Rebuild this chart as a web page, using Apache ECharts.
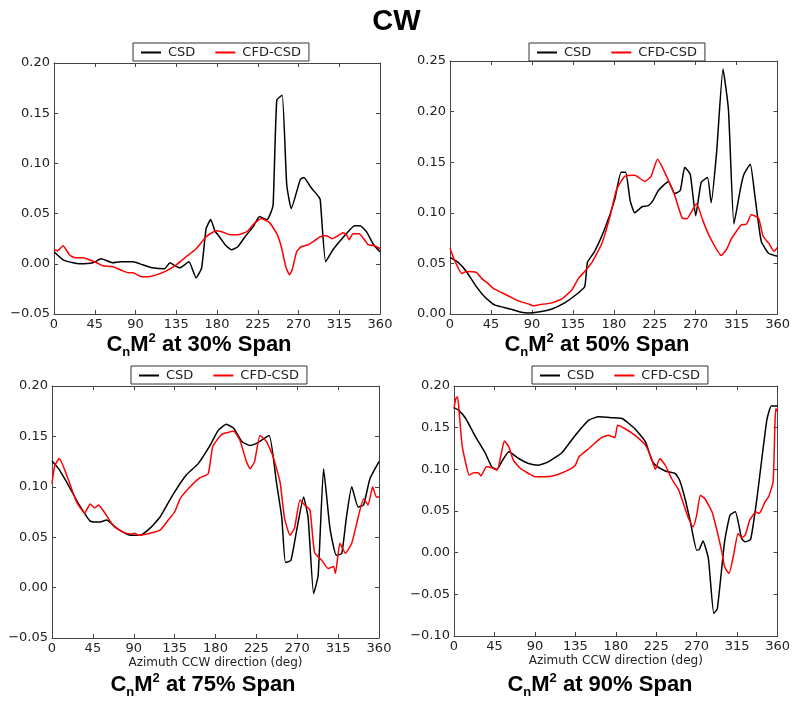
<!DOCTYPE html>
<html>
<head>
<meta charset="utf-8">
<script src="https://cdn.jsdelivr.net/npm/echarts@6/dist/echarts.min.js"></script>
<style>html,body{margin:0;padding:0;background:#fff}#c{width:793px;height:703px}</style>
</head>
<body>
<div id="c"></div>
<script>
// ---------------- data ----------------
const xTicks = [0, 45, 90, 135, 180, 225, 270, 315, 360];
const seriesNames = ['CSD', 'CFD-CSD'];
const panelTitles = ['30%', '50%', '75%', '90%'];
const xAxisName = 'Azimuth CCW direction (deg)';

// 30% span
const csd30Deg = [0,10,21,28,43,52,65,73,87,98,109,122,128,132,139,149,157,163,168,173,178,181,189,196,203,211,220,227,235,239,242,246,252,257,262,272,276,283,292,294,300,308,320,332,338,345,353,360];
const csd30Val = [0.012,0.004,0.001,0.000,0.001,0.005,0.001,0.002,0.002,-0.001,-0.004,-0.005,0.001,-0.001,-0.004,0.002,-0.014,-0.004,0.035,0.044,0.032,0.029,0.019,0.014,0.017,0.027,0.037,0.047,0.044,0.050,0.059,0.163,0.168,0.079,0.055,0.084,0.086,0.077,0.067,0.064,0.002,0.014,0.027,0.038,0.038,0.032,0.019,0.012];
const cfd30Deg = [0,4,10,17,23,32,39,47,54,65,76,82,87,97,102,113,124,135,146,157,168,179,185,194,203,213,220,229,238,246,251,256,260,263,268,273,281,286,294,301,307,312,319,323,326,330,337,342,347,354,360];
const cfd30Val = [0.014,0.013,0.018,0.009,0.006,0.006,0.004,0.001,-0.002,-0.003,-0.007,-0.009,-0.009,-0.013,-0.013,-0.011,-0.007,-0.001,0.007,0.015,0.027,0.033,0.032,0.029,0.029,0.032,0.039,0.045,0.041,0.030,0.017,-0.003,-0.011,-0.006,0.012,0.017,0.019,0.022,0.027,0.028,0.025,0.027,0.031,0.029,0.024,0.030,0.030,0.025,0.019,0.018,0.015];

// 50% span
const csd50Deg = [0,9,18,29,38,49,66,77,86,97,112,126,137,148,151,159,170,181,188,193,198,203,211,218,223,229,240,247,253,258,264,270,276,283,287,293,300,306,312,319,323,330,335,342,350,360];
const csd50Val = [0.056,0.051,0.042,0.027,0.017,0.009,0.005,0.002,0.001,0.002,0.005,0.011,0.018,0.027,0.051,0.062,0.084,0.113,0.140,0.140,0.112,0.100,0.106,0.107,0.112,0.122,0.131,0.119,0.122,0.145,0.138,0.097,0.130,0.135,0.110,0.160,0.242,0.202,0.089,0.123,0.138,0.148,0.117,0.072,0.060,0.057];
const cfd50Deg = [0,5,13,18,29,35,42,48,57,66,75,86,92,97,112,123,134,141,148,156,167,176,183,192,203,214,221,228,236,247,255,260,271,278,285,298,304,309,315,320,326,331,339,344,351,356,360];
const cfd50Val = [0.065,0.053,0.040,0.042,0.041,0.035,0.030,0.025,0.021,0.017,0.013,0.010,0.008,0.009,0.011,0.015,0.024,0.035,0.042,0.051,0.070,0.097,0.123,0.136,0.137,0.131,0.136,0.153,0.140,0.117,0.095,0.094,0.109,0.092,0.077,0.058,0.064,0.074,0.082,0.088,0.089,0.098,0.095,0.077,0.069,0.062,0.066];

// 75% span
const csd75Deg = [0,8,19,30,42,53,60,71,86,97,108,119,133,148,161,174,183,192,200,209,218,225,239,247,253,257,263,269,277,282,288,293,299,306,313,319,324,330,337,343,350,360];
const csd75Val = [0.1255,0.117,0.100,0.082,0.066,0.065,0.067,0.059,0.052,0.052,0.059,0.070,0.092,0.112,0.123,0.141,0.156,0.162,0.158,0.145,0.141,0.143,0.151,0.105,0.069,0.025,0.027,0.055,0.090,0.069,-0.006,0.012,0.118,0.059,0.032,0.034,0.069,0.100,0.080,0.082,0.108,0.125];
const cfd75Deg = [0,3,8,16,27,36,42,47,51,56,67,78,87,91,95,108,119,128,135,141,152,163,172,177,187,200,207,214,218,223,229,236,243,251,256,262,267,273,278,284,289,297,304,310,312,317,323,330,335,343,348,353,357,360];
const cfd75Val = [0.103,0.121,0.128,0.112,0.085,0.074,0.083,0.079,0.082,0.077,0.062,0.055,0.053,0.054,0.052,0.054,0.057,0.067,0.075,0.088,0.100,0.109,0.113,0.140,0.152,0.155,0.146,0.125,0.118,0.125,0.151,0.145,0.131,0.105,0.069,0.052,0.059,0.087,0.082,0.077,0.035,0.027,0.019,0.021,0.014,0.044,0.034,0.044,0.062,0.088,0.082,0.100,0.090,0.090];

// 90% span
const csd90Deg = [0,5,13,24,35,42,48,53,61,72,83,94,105,120,135,150,161,176,187,201,213,220,224,235,246,251,257,263,270,273,277,283,289,293,301,307,313,320,324,330,337,348,353,360];
const csd90Val = [0.174,0.171,0.161,0.139,0.119,0.103,0.100,0.109,0.121,0.113,0.107,0.105,0.109,0.120,0.141,0.159,0.163,0.162,0.161,0.149,0.133,0.111,0.105,0.098,0.095,0.087,0.065,0.037,0.003,0.004,0.014,-0.007,-0.073,-0.067,0.013,0.045,0.049,0.017,0.013,0.016,0.065,0.159,0.176,0.176];
const cfd90Deg = [0,2,4,6,9,14,17,22,27,30,36,42,48,53,56,61,66,74,83,90,101,113,127,135,139,150,164,172,179,182,190,201,213,219,224,229,235,242,250,257,261,266,270,274,279,287,292,298,301,306,311,316,320,324,329,336,339,342,346,350,355,357,358,360];
const cfd90Val = [0.173,0.185,0.187,0.165,0.129,0.103,0.093,0.096,0.096,0.092,0.103,0.102,0.099,0.121,0.134,0.127,0.111,0.101,0.095,0.091,0.091,0.093,0.099,0.105,0.115,0.125,0.138,0.141,0.138,0.153,0.149,0.141,0.129,0.115,0.100,0.113,0.105,0.089,0.075,0.053,0.041,0.031,0.045,0.069,0.065,0.049,0.029,0.001,-0.017,-0.025,-0.003,0.023,0.018,0.021,0.039,0.049,0.047,0.051,0.061,0.067,0.085,0.153,0.173,0.169];

const yMins = [-0.05, 0.00, -0.05, -0.10];
const yMaxs = [0.20, 0.25, 0.20, 0.20];

// ---------------- layout ----------------
const grids = [
  {left: 54, top: 63, width: 326, height: 251},
  {left: 450, top: 61, width: 328, height: 253},
  {left: 52, top: 386, width: 327, height: 252},
  {left: 454, top: 386, width: 324, height: 250}
];
const legendPos = [
  {left: 133, top: 43}, {left: 529, top: 43}, {left: 131, top: 366}, {left: 532, top: 366}
];
const subTitlePos = [
  {x: 199, y: 345}, {x: 597, y: 345}, {x: 203, y: 685}, {x: 600, y: 685}
];

const csdData = [[csd30Deg, csd30Val], [csd50Deg, csd50Val], [csd75Deg, csd75Val], [csd90Deg, csd90Val]];
const cfdData = [[cfd30Deg, cfd30Val], [cfd50Deg, cfd50Val], [cfd75Deg, cfd75Val], [cfd90Deg, cfd90Val]];
const zip = (a, b) => a.map((v, i) => [v, b[i]]);

const frameColor = '#444';
const labelFont = {fontFamily: 'DejaVu Sans', fontSize: 13, color: '#222'};
const fmtY = v => v.toFixed(2).replace('-', '\u2212');

const option = {
  animation: false,
  backgroundColor: '#fff',
  title: [{
    text: 'CW', left: 'center', top: 2,
    textStyle: {fontFamily: 'Liberation Sans', fontWeight: 'bold', fontSize: 29, color: '#000'}
  }],
  grid: grids.map(g => Object.assign({containLabel: false}, g)),
  xAxis: [], yAxis: [], series: [], legend: [], graphic: []
};

grids.forEach((g, i) => {
  const bottomRow = i >= 2;
  option.xAxis.push({
    type: 'value', gridIndex: i, min: 0, max: 360, interval: 45, position: 'bottom',
    name: bottomRow ? xAxisName : '', nameLocation: 'middle', nameGap: 19,
    nameTextStyle: {fontFamily: 'DejaVu Sans', fontSize: 12, color: '#222'},
    axisLine: {show: true, onZero: false, lineStyle: {color: frameColor, width: 1}},
    axisTick: {show: true, inside: true, length: 4, lineStyle: {color: frameColor}},
    axisLabel: Object.assign({margin: 4}, labelFont),
    splitLine: {show: false}
  });
  option.xAxis.push({
    type: 'value', gridIndex: i, min: 0, max: 360, interval: 45, position: 'top',
    axisLine: {show: true, onZero: false, lineStyle: {color: frameColor, width: 1}},
    axisTick: {show: true, inside: true, length: 4, lineStyle: {color: frameColor}},
    axisLabel: {show: false}, splitLine: {show: false}
  });
  option.yAxis.push({
    type: 'value', gridIndex: i, min: yMins[i], max: yMaxs[i], interval: 0.05, position: 'left',
    axisLine: {show: true, onZero: false, lineStyle: {color: frameColor, width: 1}},
    axisTick: {show: true, inside: true, length: 4, lineStyle: {color: frameColor}},
    axisLabel: Object.assign({margin: 4, formatter: fmtY}, labelFont),
    splitLine: {show: false}
  });
  option.yAxis.push({
    type: 'value', gridIndex: i, min: yMins[i], max: yMaxs[i], interval: 0.05, position: 'right',
    axisLine: {show: true, onZero: false, lineStyle: {color: frameColor, width: 1}},
    axisTick: {show: true, inside: true, length: 4, lineStyle: {color: frameColor}},
    axisLabel: {show: false}, splitLine: {show: false}
  });
  option.series.push({
    name: seriesNames[0], type: 'line', xAxisIndex: 2 * i, yAxisIndex: 2 * i,
    data: zip(csdData[i][0], csdData[i][1]), symbol: 'none', smooth: 0.15,
    lineStyle: {color: '#000', width: 1.5}, itemStyle: {color: '#000'}, z: 3
  });
  option.series.push({
    name: seriesNames[1], type: 'line', xAxisIndex: 2 * i, yAxisIndex: 2 * i,
    data: zip(cfdData[i][0], cfdData[i][1]), symbol: 'none', smooth: 0.15,
    lineStyle: {color: '#ff0000', width: 1.5}, itemStyle: {color: '#ff0000'}, z: 4
  });
  option.legend.push({
    data: seriesNames, left: legendPos[i].left, top: legendPos[i].top,
    orient: 'horizontal', borderColor: '#333', borderWidth: 1, borderRadius: 0,
    padding: [3, 8, 2, 8], itemGap: 20, itemWidth: 20, itemHeight: 2,
    icon: 'rect',
    textStyle: {fontFamily: 'DejaVu Sans', fontSize: 13, color: '#222', padding: [0, 0, 0, 2]},
    selectedMode: false
  });
  option.graphic.push({
    type: 'text', x: subTitlePos[i].x, y: subTitlePos[i].y,
    style: {
      text: 'C{sub|n}M{sup|2} at ' + panelTitles[i] + ' Span',
      align: 'center', verticalAlign: 'middle',
      font: 'bold 22px "Liberation Sans"', fill: '#000',
      rich: {
        sub: {font: 'bold 13px "Liberation Sans"', fill: '#000', verticalAlign: 'bottom', padding: [14, 0, 0, 0]},
        sup: {font: 'bold 13px "Liberation Sans"', fill: '#000', verticalAlign: 'top', padding: [0, 0, 10, 0]}
      }
    }
  });
});

const chart = echarts.init(document.getElementById('c'), null, {renderer: 'canvas'});
chart.setOption(option);
</script>
</body>
</html>
